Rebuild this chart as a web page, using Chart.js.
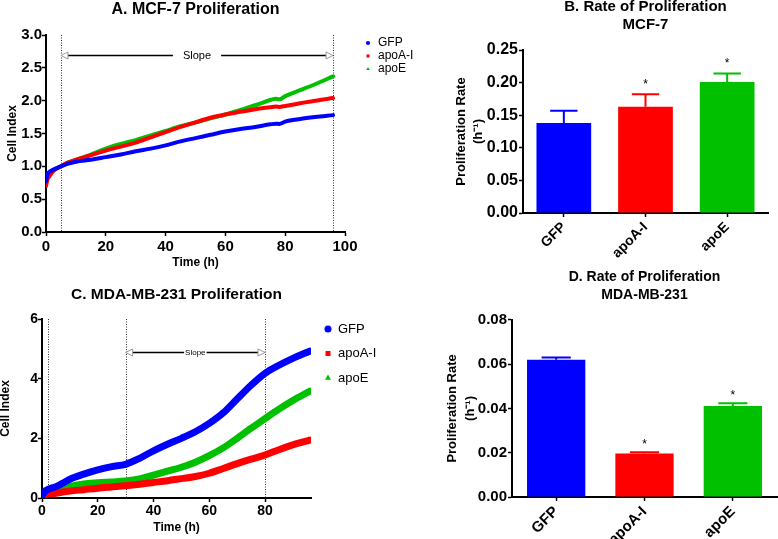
<!DOCTYPE html>
<html>
<head>
<meta charset="utf-8">
<script src="https://cdn.jsdelivr.net/npm/chart.js@4.4.1/dist/chart.umd.min.js"></script>
<style>
html,body{margin:0;padding:0;background:#fff;width:778px;height:539px;overflow:hidden;position:relative}
canvas{position:absolute;display:block}
</style>
</head>
<body>
<canvas id="cA" width="430" height="270" style="left:0;top:0"></canvas>
<canvas id="cB" width="348" height="272" style="left:430px;top:-2px"></canvas>
<canvas id="cC" width="430" height="269" style="left:0;top:270px"></canvas>
<canvas id="cD" width="348" height="271" style="left:430px;top:268px"></canvas>
<script>
// ---------------- data ----------------
const seriesNames = ['GFP', 'apoA-I', 'apoE'];
const seriesColors = ['#0000FF', '#FF0000', '#00C000'];
const seriesMarkers = ['circle', 'rect', 'triangle'];

// A. MCF-7 proliferation (Cell Index vs time, h)
const timeA  = [0, 0.5, 1, 2.5, 5, 7.5, 10, 15, 20, 25, 30, 35, 40, 45, 50, 55, 60, 65, 70, 75, 77, 78, 80, 85, 90, 96];
const gfpA   = [0.77, 0.88, 0.91, 0.95, 1.00, 1.04, 1.07, 1.10, 1.14, 1.18, 1.23, 1.27, 1.32, 1.38, 1.43, 1.48, 1.53, 1.57, 1.60, 1.64, 1.65, 1.645, 1.68, 1.72, 1.75, 1.78];
const apoAIA = [0.70, 0.80, 0.84, 0.93, 1.00, 1.06, 1.10, 1.17, 1.24, 1.30, 1.36, 1.44, 1.52, 1.60, 1.67, 1.74, 1.79, 1.83, 1.87, 1.90, 1.91, 1.905, 1.92, 1.96, 2.00, 2.04];
const apoEA  = [0.74, 0.83, 0.86, 0.94, 1.00, 1.06, 1.10, 1.18, 1.27, 1.34, 1.40, 1.47, 1.54, 1.61, 1.67, 1.73, 1.79, 1.86, 1.93, 2.01, 2.03, 2.02, 2.07, 2.16, 2.25, 2.37];
const markersA = [5, 96];
const slopeA = [5, 96];
const slopeLevelA = 2.7;

// C. MDA-MB-231 proliferation
const timeC  = [0, 1, 2, 5, 7.5, 10, 15, 20, 25, 30, 35, 40, 45, 50, 55, 60, 65, 70, 75, 80, 85, 90, 96];
const gfpC   = [0.05, 0.22, 0.28, 0.38, 0.50, 0.63, 0.80, 0.94, 1.05, 1.13, 1.33, 1.58, 1.80, 2.00, 2.22, 2.50, 2.85, 3.32, 3.78, 4.18, 4.45, 4.68, 4.92];
const apoAIC = [0.02, 0.10, 0.13, 0.16, 0.20, 0.23, 0.28, 0.33, 0.37, 0.41, 0.46, 0.52, 0.58, 0.65, 0.72, 0.83, 0.99, 1.15, 1.30, 1.44, 1.62, 1.78, 1.94];
const apoEC  = [0.03, 0.12, 0.16, 0.22, 0.30, 0.38, 0.47, 0.51, 0.54, 0.57, 0.64, 0.77, 0.90, 1.03, 1.20, 1.42, 1.68, 2.00, 2.34, 2.66, 2.98, 3.27, 3.58];
const markersC = [2, 30, 80];
const slopeC = [30, 80];
const slopeLevelC = 4.9;

// B / D. proliferation rates (h^-1), mean and SEM
const barCategories = ['GFP', 'apoA-I', 'apoE'];
const rateB = [0.138, 0.163, 0.201];
const semB  = [0.019, 0.019, 0.013];
const sigB  = ['', '*', '*'];
const rateD = [0.062, 0.0197, 0.0411];
const semD  = [0.0010, 0.0005, 0.0012];
const sigD  = ['', '*', '*'];

// ---------------- helpers ----------------
Chart.defaults.font.family = '"Liberation Sans", Arial, Helvetica, sans-serif';
Chart.defaults.color = '#000';
const bold = (size, lh) => ({ size: size, weight: 'bold', lineHeight: lh || 1.2 });
const pts = (xs, ys) => xs.map((x, i) => ({ x: x, y: ys[i] }));

const refLines = {
  id: 'refLines',
  beforeDatasetsDraw(chart, args, o) {
    const ctx = chart.ctx, a = chart.chartArea, x = chart.scales.x, y = chart.scales.y;
    ctx.save();
    ctx.strokeStyle = '#333'; ctx.lineWidth = 1; ctx.setLineDash([1, 1.5]);
    o.lines.forEach(v => {
      const px = Math.round(x.getPixelForValue(v)) + 0.5;
      ctx.beginPath(); ctx.moveTo(px, a.top); ctx.lineTo(px, a.bottom); ctx.stroke();
    });
    ctx.setLineDash([]);
    const x0 = x.getPixelForValue(o.from), x1 = x.getPixelForValue(o.to), py = Math.round(y.getPixelForValue(o.level)) + 0.5;
    ctx.font = o.font;
    const tw = ctx.measureText(o.label).width, mid = (x0 + x1) / 2;
    ctx.fillStyle = '#000'; ctx.textAlign = 'center'; ctx.textBaseline = 'middle';
    ctx.fillText(o.label, mid, py);
    ctx.strokeStyle = '#000'; ctx.lineWidth = o.arrowWidth;
    ctx.beginPath();
    ctx.moveTo(x0 + o.head, py); ctx.lineTo(mid - tw / 2 - o.gap, py);
    ctx.moveTo(mid + tw / 2 + o.gap, py); ctx.lineTo(x1 - o.head, py);
    ctx.stroke();
    ctx.lineWidth = 1; ctx.strokeStyle = '#999'; ctx.fillStyle = '#fff';
    [[x0, 1], [x1, -1]].forEach(([tip, dir]) => {
      ctx.beginPath(); ctx.moveTo(tip, py);
      ctx.lineTo(tip + dir * o.head, py - o.headH); ctx.lineTo(tip + dir * o.head, py + o.headH);
      ctx.closePath(); ctx.fill(); ctx.stroke();
    });
    ctx.restore();
  }
};

const legendPin = {
  id: 'legendPin',
  afterLayout(chart, args, o) {
    const lg = chart.legend; if (!lg) return;
    const w = lg.width, h = lg.height;
    lg.left = o.left; lg.top = o.top; lg.right = o.left + w; lg.bottom = o.top + h;
  }
};

const errorBars = {
  id: 'errorBars',
  afterDatasetsDraw(chart, args, o) {
    const ctx = chart.ctx, y = chart.scales.y, meta = chart.getDatasetMeta(0);
    ctx.save();
    meta.data.forEach((bar, i) => {
      const top = y.getPixelForValue(o.values[i] + o.errors[i]);
      const half = bar.width * o.capRatio / 2;
      ctx.strokeStyle = seriesColors[i]; ctx.lineWidth = o.lineWidth;
      ctx.beginPath();
      ctx.moveTo(bar.x, bar.y); ctx.lineTo(bar.x, top);
      ctx.moveTo(bar.x - half, top); ctx.lineTo(bar.x + half, top);
      ctx.stroke();
      if (o.sig[i]) {
        ctx.fillStyle = '#000'; ctx.font = o.sigFont; ctx.textAlign = 'center'; ctx.textBaseline = 'alphabetic';
        ctx.fillText(o.sig[i], bar.x, top - o.sigGap);
      }
    });
    ctx.restore();
  }
};

function legendLabels(size, boxW, boxH, pad) {
  return {
    usePointStyle: true, boxWidth: boxW, boxHeight: boxH, padding: pad,
    color: '#000', font: { size: size, weight: 'normal' },
    generateLabels(chart) {
      const items = Chart.defaults.plugins.legend.labels.generateLabels(chart);
      items.forEach(it => { it.lineWidth = 0; it.strokeStyle = it.fillStyle; });
      return items;
    }
  };
}

function axisBase(tickFont) {
  return {
    grid: { display: true, drawOnChartArea: false, drawTicks: true, tickLength: 4, tickColor: '#000', tickWidth: 1.5 },
    border: { display: true, color: '#000', width: 2 },
    ticks: { color: '#000', font: tickFont }
  };
}

function lineDatasets(time, ys, width) {
  return ys.map((vals, i) => ({
    label: seriesNames[i], data: pts(time, vals),
    borderColor: seriesColors[i], backgroundColor: seriesColors[i],
    pointStyle: seriesMarkers[i], pointRadius: 0, borderWidth: width,
    cubicInterpolationMode: 'monotone', borderCapStyle: 'round', borderJoinStyle: 'round', fill: false
  }));
}

// ---------------- A ----------------
(function () {
  const xa = axisBase(bold(15));
  xa.type = 'linear'; xa.min = 0; xa.max = 100;
  xa.ticks.stepSize = 20; xa.ticks.padding = 2;
  xa.title = { display: true, text: 'Time (h)', font: bold(12), color: '#000', padding: { top: 0, bottom: 0 } };
  xa.afterFit = s => { s.height = 38; };
  const ya = axisBase(bold(15));
  ya.min = 0; ya.max = 3;
  ya.ticks.stepSize = 0.5; ya.ticks.padding = 0; ya.ticks.callback = v => v.toFixed(1);
  ya.title = { display: true, text: 'Cell Index', font: bold(12), color: '#000', padding: { top: 5.8, bottom: 0 } };
  ya.afterFit = s => { s.width = 46; };
  new Chart(document.getElementById('cA'), {
    type: 'line',
    data: { datasets: lineDatasets(timeA, [gfpA, apoAIA, apoEA], 4) },
    options: {
      responsive: false, animation: false, devicePixelRatio: 1,
      layout: { padding: { left: 0, right: 85, top: 0, bottom: 0 } },
      scales: { x: xa, y: ya },
      plugins: {
        title: { display: true, text: 'A. MCF-7 Proliferation', font: bold(16), color: '#000', fullSize: false, padding: { top: 0, bottom: 15.8 } },
        legend: { display: true, position: 'chartArea', align: 'start', labels: legendLabels(12, 8, 3, 1) },
        legendPin: { left: 363, top: 36 },
        tooltip: { enabled: false },
        refLines: { lines: markersA, from: slopeA[0], to: slopeA[1], level: slopeLevelA, label: 'Slope',
          font: '11px "Liberation Sans", Arial, sans-serif', gap: 10, head: 7, headH: 3.5, arrowWidth: 1.5 }
      }
    },
    plugins: [refLines, legendPin]
  });
})();

// ---------------- C ----------------
(function () {
  const xa = axisBase(bold(14));
  xa.type = 'linear'; xa.min = 0; xa.max = 96.5;
  xa.ticks.stepSize = 20; xa.ticks.padding = 1; xa.ticks.includeBounds = false;
  xa.title = { display: true, text: 'Time (h)', font: bold(12), color: '#000', padding: { top: 0, bottom: 3.8 } };
  xa.afterFit = s => { s.height = 41; };
  const ya = axisBase(bold(14));
  ya.min = 0; ya.max = 6;
  ya.ticks.stepSize = 2; ya.ticks.padding = 0;
  ya.title = { display: true, text: 'Cell Index', font: bold(12, 1), color: '#000', padding: { top: 0, bottom: 0 } };
  ya.afterFit = s => { s.width = 42; };
  new Chart(document.getElementById('cC'), {
    type: 'line',
    data: { datasets: lineDatasets(timeC, [gfpC, apoAIC, apoEC], 7) },
    options: {
      responsive: false, animation: false, devicePixelRatio: 1,
      layout: { padding: { left: 0, right: 119, top: 0, bottom: 0 } },
      scales: { x: xa, y: ya },
      plugins: {
        title: { display: true, text: 'C. MDA-MB-231 Proliferation', font: bold(15.5), color: '#000', fullSize: false, padding: { top: 15.7, bottom: 14.7 } },
        legend: { display: true, position: 'chartArea', align: 'start', labels: legendLabels(13, 7, 5, 11.5) },
        legendPin: { left: 313, top: 41 },
        tooltip: { enabled: false },
        refLines: { lines: markersC, from: slopeC[0], to: slopeC[1], level: slopeLevelC, label: 'Slope',
          font: '8px "Liberation Sans", Arial, sans-serif', gap: 1, head: 7, headH: 3.5, arrowWidth: 1.5 }
      }
    },
    plugins: [refLines, legendPin]
  });
})();

// ---------------- bar panels ----------------
function barChart(id, o) {
  const xa = axisBase(bold(o.xFont));
  xa.grid.offset = false;
  xa.ticks.minRotation = 45; xa.ticks.maxRotation = 45; xa.ticks.padding = 2;
  xa.afterFit = s => { s.height = o.xHeight; };
  const ya = axisBase(bold(o.yFont));
  ya.min = 0; ya.max = o.yMax;
  ya.ticks.stepSize = o.yStep; ya.ticks.padding = 1; ya.ticks.callback = v => v.toFixed(2);
  ya.title = { display: true, text: ['Proliferation Rate', '(h\u207B\u00B9)'], font: bold(13, o.yTitleLH), color: '#000', padding: { top: o.yTitlePad, bottom: 0 } };
  ya.afterFit = s => { s.width = o.yWidth; };
  new Chart(document.getElementById(id), {
    type: 'bar',
    data: { labels: barCategories, datasets: [{ data: o.values, backgroundColor: seriesColors, borderWidth: 0, barPercentage: o.barPct, categoryPercentage: 1 }] },
    options: {
      responsive: false, animation: false, devicePixelRatio: 1,
      layout: { padding: o.padding },
      scales: { x: xa, y: ya },
      plugins: {
        title: { display: true, text: o.title, font: bold(o.titleFont, o.titleLH), color: '#000', fullSize: false, padding: { top: 0, bottom: o.titlePadB } },
        legend: { display: false },
        tooltip: { enabled: false },
        errorBars: { values: o.values, errors: o.errors, sig: o.sig, capRatio: 0.5, lineWidth: 2, sigGap: o.sigGap, sigFont: '12px "Liberation Sans", Arial, sans-serif' }
      }
    },
    plugins: [errorBars]
  });
}

barChart('cB', {
  values: rateB, errors: semB, sig: sigB,
  title: ['B. Rate of Proliferation', 'MCF-7'], titleFont: 15, titleLH: 1.2, titlePadB: 16,
  padding: { left: 0, right: 10, top: 0, bottom: 0 },
  xFont: 14, xHeight: 57, yFont: 16, yMax: 0.25, yStep: 0.05, yWidth: 93, yTitleLH: 1.35, yTitlePad: 22.5,
  barPct: 0.67, sigGap: 6
});

barChart('cD', {
  values: rateD, errors: semD, sig: sigD,
  title: ['D. Rate of Proliferation', 'MDA-MB-231'], titleFont: 14, titleLH: 1.26, titlePadB: 16.1,
  padding: { left: 0, right: 1, top: 0.5, bottom: 0 },
  xFont: 15, xHeight: 42, yFont: 15, yMax: 0.08, yStep: 0.02, yWidth: 82, yTitleLH: 1.385, yTitlePad: 13,
  barPct: 0.66, sigGap: 4
});
</script>
</body>
</html>
